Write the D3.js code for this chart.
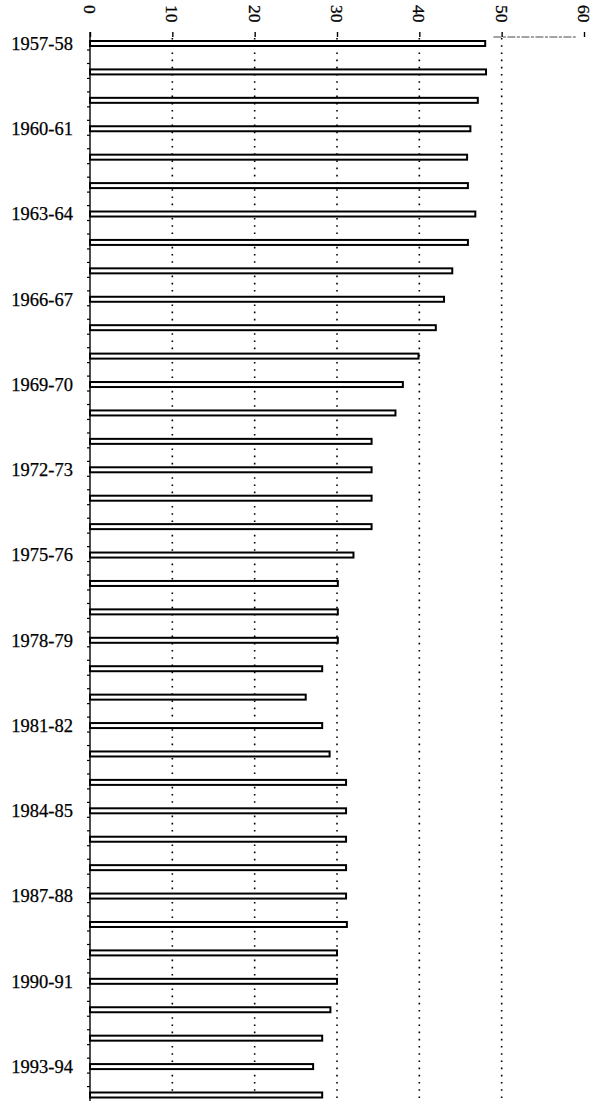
<!DOCTYPE html>
<html>
<head>
<meta charset="utf-8">
<script src="https://cdn.jsdelivr.net/npm/d3@7"></script>
<style>
  html, body { margin: 0; padding: 0; background: #fff; }
  svg { display: block; }
</style>
</head>
<body>
<svg id="chart" width="594" height="1101"></svg>
<script>
const categories = [
  "1957-58","1958-59","1959-60","1960-61","1961-62","1962-63","1963-64","1964-65",
  "1965-66","1966-67","1967-68","1968-69","1969-70","1970-71","1971-72","1972-73",
  "1973-74","1974-75","1975-76","1976-77","1977-78","1978-79","1979-80","1980-81",
  "1981-82","1982-83","1983-84","1984-85","1985-86","1986-87","1987-88","1988-89",
  "1989-90","1990-91","1991-92","1992-93","1993-94","1994-95"
];
const values = [
  48.0, 48.1, 47.1, 46.2, 45.8, 45.9, 46.8, 45.9,
  44.0, 43.0, 42.0, 39.9, 38.0, 37.1, 34.2, 34.2,
  34.2, 34.2, 32.0, 30.1, 30.1, 30.1, 28.2, 26.2,
  28.2, 29.1, 31.1, 31.1, 31.1, 31.1, 31.1, 31.2,
  30.0, 30.0, 29.2, 28.2, 27.1, 28.2
];
const xTicks = [0, 10, 20, 30, 40, 50, 60];
const gridValues = [10, 20, 30, 40, 50];
const labelEvery = 3;

const svg = d3.select("#chart");
const x = d3.scaleLinear().domain([0, 60]).range([90, 584]);
const y = d3.scalePoint().domain(categories).range([43.5, 1095]);
const serif = "'Liberation Serif', 'DejaVu Serif', serif";

// dotted gridlines
svg.append("g").selectAll("line").data(gridValues).join("line")
  .attr("x1", d => x(d)).attr("x2", d => x(d))
  .attr("y1", 38).attr("y2", 1101)
  .attr("stroke", "#000").attr("stroke-width", 1.6)
  .attr("stroke-dasharray", "1.6,5.6");

// top axis ticks
const topAxis = d3.axisTop(x).tickValues(xTicks).tickSize(5).tickFormat("");
const gTop = svg.append("g").attr("transform", "translate(0,37)").call(topAxis);
gTop.select(".domain").remove();
gTop.selectAll(".tick line").attr("stroke", "#000").attr("stroke-width", 1.4);

// partial faint axis segment on right
svg.append("line")
  .attr("x1", x(49)).attr("x2", x(59))
  .attr("y1", 37).attr("y2", 37)
  .attr("stroke", "#333").attr("stroke-width", 0.9)
  .attr("stroke-dasharray", "8,1.5,3,1.5");

// rotated tick labels
svg.append("g").selectAll("text").data(xTicks).join("text")
  .attr("transform", d => `translate(${x(d) - 6},5) rotate(90)`)
  .attr("text-anchor", "start")
  .attr("font-family", serif)
  .attr("font-size", 17.5)
  .attr("fill", "#000")
  .attr("stroke", "#000").attr("stroke-width", 0.3)
  .text(d => d);

// y axis line
svg.append("line")
  .attr("x1", x(0)).attr("x2", x(0))
  .attr("y1", 32).attr("y2", 1101)
  .attr("stroke", "#000").attr("stroke-width", 1.4);

// y axis minor ticks
const minor = [];
categories.forEach(c => { minor.push(y(c) + 6.5); minor.push(y(c) + 20); });
svg.append("g").selectAll("line").data(minor.filter(v => v < 1101)).join("line")
  .attr("x1", x(0) - 3).attr("x2", x(0))
  .attr("y1", d => d).attr("y2", d => d)
  .attr("stroke", "#000").attr("stroke-width", 1.2);

// bars
svg.append("g").selectAll("rect").data(categories).join("rect")
  .attr("x", x(0))
  .attr("y", d => y(d) - 2.5)
  .attr("width", (d, i) => x(values[i]) - x(0))
  .attr("height", 5)
  .attr("fill", "#fff")
  .attr("stroke", "#000")
  .attr("stroke-width", 2);

// category labels
svg.append("g").selectAll("text")
  .data(categories.filter((d, i) => i % labelEvery === 0)).join("text")
  .attr("x", 73)
  .attr("y", d => y(d))
  .attr("dy", "0.34em")
  .attr("text-anchor", "end")
  .attr("font-family", serif)
  .attr("font-size", 18.5)
  .attr("fill", "#000")
  .attr("stroke", "#000").attr("stroke-width", 0.25)
  .text(d => d);
</script>
</body>
</html>
